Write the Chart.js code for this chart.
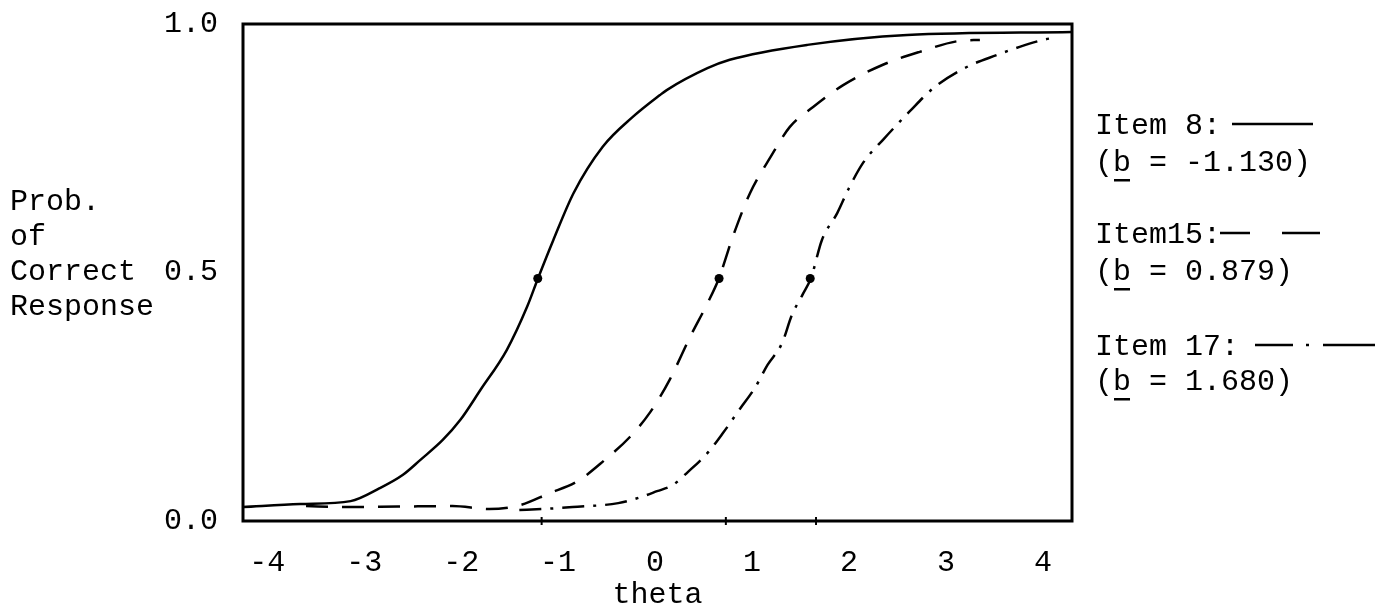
<!DOCTYPE html>
<html><head><meta charset="utf-8">
<script src="https://cdn.jsdelivr.net/npm/chart.js@4"></script>
<style>html,body{margin:0;padding:0;background:#fff;}canvas{display:block;}</style>
</head><body>
<canvas id="c" width="1389" height="613"></canvas>
<script>
// ---- data ----
const xTickValues = [-4, -3, -2, -1, 0, 1, 2, 3, 4];
const yTickValues = [0, 0.5, 1];
const yTickLabels = ['0.0', '0.5', '1.0'];
const xTitle = 'theta';
const yTitleLines = ['Prob.', 'of', 'Correct', 'Response'];

const item8Theta = [-4.25, -3.66, -3.14, -2.84, -2.60, -2.42, -2.19, -2.01, -1.80, -1.53, -1.32, -1.21, -1.05, -0.84, -0.54, -0.23, 0.05, 0.12, 0.54, 0.77, 1.57, 2.60, 4.30];
const item8P     = [0.028, 0.034, 0.040, 0.066, 0.093, 0.123, 0.163, 0.203, 0.264, 0.344, 0.431, 0.487, 0.565, 0.660, 0.753, 0.813, 0.857, 0.867, 0.911, 0.928, 0.958, 0.978, 0.984];

const item15Theta = [-3.60, -3.22, -2.65, -2.09, -1.71, -1.39, -1.10, -0.80, -0.53, -0.26, -0.05, 0.15, 0.36, 0.54, 0.66, 0.80, 0.98, 1.19, 1.39, 1.63, 1.94, 2.35, 2.73, 3.14, 3.35];
const item15P     = [0.030, 0.028, 0.029, 0.030, 0.024, 0.032, 0.055, 0.080, 0.121, 0.169, 0.219, 0.284, 0.370, 0.438, 0.489, 0.571, 0.660, 0.732, 0.793, 0.833, 0.877, 0.918, 0.944, 0.966, 0.968];

const item17Theta = [-1.40, -1.17, -0.85, -0.38, -0.15, 0.02, 0.18, 0.34, 0.55, 0.70, 0.88, 1.03, 1.16, 1.31, 1.41, 1.52, 1.61, 1.72, 1.88, 2.00, 2.15, 2.36, 2.62, 2.87, 3.21, 3.53, 3.76, 4.00, 4.10];
const item17P     = [0.022, 0.024, 0.028, 0.036, 0.048, 0.060, 0.072, 0.099, 0.139, 0.177, 0.227, 0.268, 0.314, 0.358, 0.414, 0.455, 0.490, 0.565, 0.620, 0.670, 0.722, 0.769, 0.823, 0.871, 0.913, 0.938, 0.954, 0.968, 0.972];

const midTheta = [-1.21, 0.66, 1.60];
const midP     = [0.488, 0.488, 0.488];
const bMarkTheta = [-1.17, 0.73, 1.66];

const legendNames = ['Item 8:', 'Item15:', 'Item 17:'];
const legendB     = ['-1.130', '0.879', '1.680'];

// ---- chart ----
const FONT = '"Liberation Mono", "Courier New", monospace';
const toPts = (xs, ys) => xs.map((x, i) => ({x: x, y: ys[i]}));

const boxPlugin = {
  id: 'box',
  beforeDatasetsDraw(chart) {
    const {ctx, chartArea: a} = chart;
    ctx.save();
    ctx.strokeStyle = '#000';
    ctx.lineWidth = 3;
    ctx.strokeRect(a.left, a.top, a.right - a.left, a.bottom - a.top);
    ctx.restore();
  }
};

const textPlugin = {
  id: 'texts',
  afterDraw(chart) {
    const {ctx} = chart;
    const y = chart.scales.y;
    ctx.save();
    ctx.fillStyle = '#000';
    ctx.font = '30px ' + FONT;
    ctx.textBaseline = 'middle';
    ctx.textAlign = 'left';
    // y-axis title (multi-line, "Correct" on the 0.5 line)
    const yMid = y.getPixelForValue(0.5);
    yTitleLines.forEach((t, i) => ctx.fillText(t, 10, yMid + (i - 2) * 35));

    // legend
    const lx = 1095;
    const rows = [[126, 163], [235, 272], [347, 382]];
    const samples = [
      {from: 1232, to: 1313, dash: []},
      {from: 1220, to: 1320, dash: [30, 32, 38, 200]},
      {from: 1255, to: 1375, dash: [38, 13, 3, 14, 52, 200]}
    ];
    legendNames.forEach((name, i) => {
      ctx.fillText(name, lx, rows[i][0]);
      const s = samples[i];
      ctx.save();
      ctx.lineWidth = 2.5;
      ctx.strokeStyle = '#000';
      ctx.setLineDash(s.dash);
      ctx.beginPath();
      ctx.moveTo(s.from, rows[i][0] - 2);
      ctx.lineTo(s.to, rows[i][0] - 2);
      ctx.stroke();
      ctx.restore();
      const line = '(b = ' + legendB[i] + ')';
      ctx.fillText(line, lx, rows[i][1]);
      const w0 = ctx.measureText('(').width;
      const w1 = ctx.measureText('(b').width;
      ctx.fillRect(lx + w0 + 1, rows[i][1] + 16, w1 - w0 - 2, 2.5);
    });
    ctx.restore();
  }
};

new Chart(document.getElementById('c'), {
  type: 'scatter',
  data: {
    datasets: [
      {label: 'Item 8', data: toPts(item8Theta, item8P), showLine: true, borderColor: '#000', borderWidth: 2.5,
       pointRadius: 0, cubicInterpolationMode: 'monotone', fill: false},
      {label: 'Item 15', data: toPts(item15Theta, item15P), showLine: true, borderColor: '#000', borderWidth: 2.5,
       borderDash: [22, 14], pointRadius: 0, cubicInterpolationMode: 'monotone', fill: false},
      {label: 'Item 17', data: toPts(item17Theta, item17P), showLine: true, borderColor: '#000', borderWidth: 2.5,
       borderDash: [22, 9, 3, 9], pointRadius: 0, cubicInterpolationMode: 'monotone', fill: false},
      {label: 'b', data: toPts(midTheta, midP), showLine: false, pointRadius: 4.5,
       pointBackgroundColor: '#000', pointBorderColor: '#000', pointBorderWidth: 0},
      {label: 'marks', data: bMarkTheta.map(v => ({x: v, y: 0})), showLine: false, pointStyle: 'line',
       rotation: 90, pointRadius: 4, pointBorderColor: '#000', pointBorderWidth: 2, clip: false}
    ]
  },
  options: {
    responsive: false,
    animation: false,
    events: [],
    layout: {padding: {left: 0, right: 317, top: 24, bottom: 0}},
    plugins: {legend: {display: false}, tooltip: {enabled: false}, title: {display: false}},
    scales: {
      x: {
        type: 'linear', min: -4.25, max: 4.3,
        grid: {display: false, drawTicks: false},
        border: {display: false},
        afterBuildTicks: s => { s.ticks = xTickValues.map(v => ({value: v})); },
        afterFit: s => { s.height = 92; s.paddingLeft = 0; s.paddingRight = 0; },
        ticks: {padding: 24, color: '#000', font: {family: FONT, size: 30}, maxRotation: 0, autoSkip: false,
                callback: v => String(v)},
        title: {display: true, text: xTitle, color: '#000', font: {family: FONT, size: 30}, padding: {top: 0, bottom: 0}}
      },
      y: {
        type: 'linear', min: 0, max: 1,
        grid: {display: false, drawTicks: false},
        border: {display: false},
        afterBuildTicks: s => { s.ticks = yTickValues.map(v => ({value: v})); },
        afterFit: s => { s.width = 243; s.paddingTop = 0; s.paddingBottom = 0; },
        ticks: {padding: 25, color: '#000', font: {family: FONT, size: 30}, autoSkip: false,
                callback: v => yTickLabels[yTickValues.indexOf(v)]}
      }
    }
  },
  plugins: [boxPlugin, textPlugin]
});
</script>
</body></html>
